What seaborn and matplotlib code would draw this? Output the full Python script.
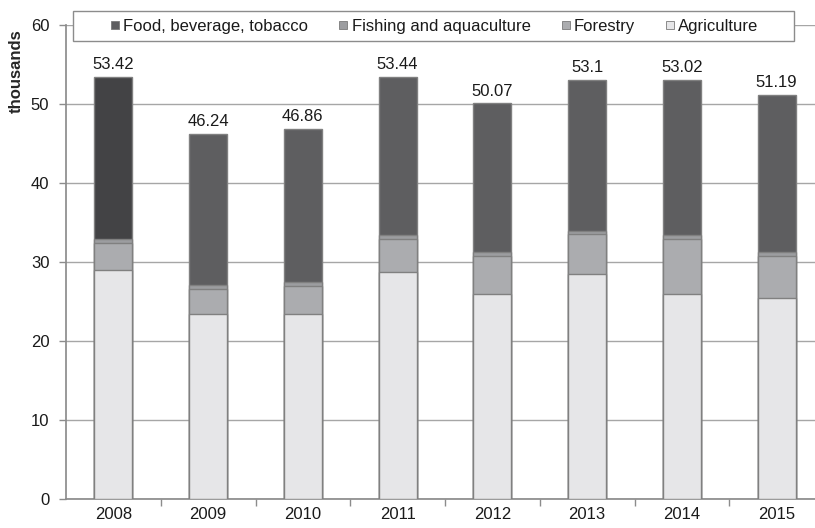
import numpy as np
import pandas as pd
import matplotlib
matplotlib.use("Agg")
import matplotlib.pyplot as plt
from matplotlib.patches import Rectangle
from matplotlib.lines import Line2D
import seaborn as sns

years = ["2008", "2009", "2010", "2011", "2012", "2013", "2014", "2015"]
totals = [53.42, 46.24, 46.86, 53.44, 50.07, 53.1, 53.02, 51.19]
agriculture = [29.0, 23.4, 23.4, 28.7, 25.9, 28.5, 25.9, 25.4]
forestry = [3.4, 3.2, 3.6, 4.2, 4.9, 5.0, 7.0, 5.4]
fishing = [0.5, 0.5, 0.5, 0.5, 0.5, 0.4, 0.5, 0.5]
food = [round(t - a - f - s, 2) for t, a, f, s in zip(totals, agriculture, forestry, fishing)]

series_names = ["Food, beverage, tobacco", "Fishing and aquaculture", "Forestry", "Agriculture"]
series_colors = ["#5e5e60", "#9c9da0", "#abacaf", "#e6e6e8"]
food_2008_color = "#434345"

sns.set_theme(style="white")
plt.rcParams["font.family"] = ["Liberation Sans", "DejaVu Sans"]
plt.rcParams["text.color"] = "#1a1a1a"
fs = 12

df = pd.DataFrame({
    "year": years,
    "agriculture": agriculture,
    "forestry": forestry,
    "fishing": fishing,
    "food": food,
})
# cumulative heights, drawn from tallest to shortest so each layer covers the one above
df["c_agri"] = df["agriculture"]
df["c_fore"] = df["c_agri"] + df["forestry"]
df["c_fish"] = df["c_fore"] + df["fishing"]
df["c_food"] = df["c_fish"] + df["food"]

fig = plt.figure(figsize=(8.15, 5.28), dpi=100)
ax = fig.add_axes([66 / 815, 29 / 528, 758 / 815, 474 / 528])

edge = "#808080"
layers = [("c_food", series_colors[0]), ("c_fish", series_colors[1]),
          ("c_fore", series_colors[2]), ("c_agri", series_colors[3])]
for col, colr in layers:
    sns.barplot(data=df, x="year", y=col, color=colr, width=0.4, saturation=1,
                edgecolor=edge, linewidth=1, ax=ax, zorder=3)

# the first year's top segment is shaded darker
ax.patches[0].set_facecolor(food_2008_color)

ax.set_xlim(-0.5, 7.5)
ax.set_ylim(0, 60)
ax.set_yticks(np.arange(0, 61, 10))
ax.set_xlabel("")
ax.set_ylabel("thousands", fontsize=fs, fontweight="bold", labelpad=5, loc="top")
ax.yaxis.label.set_y(0.99)

ax.grid(axis="y", color="#a6a6a6", linewidth=1, zorder=0)
ax.grid(axis="x", visible=False)
for s in ["top", "right"]:
    ax.spines[s].set_visible(False)
ax.spines["left"].set_color("#8c8c8c")
ax.spines["bottom"].set_color("#8c8c8c")

ax.tick_params(axis="y", which="major", length=5, color="#8c8c8c", width=1,
               labelsize=fs, pad=7, left=True, labelcolor="#1a1a1a")
ax.tick_params(axis="x", which="major", length=0, labelsize=fs, pad=6, labelcolor="#1a1a1a")
ax.set_xticks(np.arange(0.5, 7.5, 1), minor=True)
ax.tick_params(axis="x", which="minor", length=5, color="#8c8c8c", width=1, bottom=True)

for i, t in enumerate(totals):
    ax.text(i, t + 0.6, f"{t:g}", ha="center", va="bottom", fontsize=fs)

# legend box across the top
box = Rectangle((73 / 815, 1 - 41 / 528), (794 - 73) / 815, 30 / 528,
                transform=fig.transFigure, facecolor="white", edgecolor="#8c8c8c",
                linewidth=1, zorder=5)
fig.add_artist(box)
handles = [Line2D([], [], marker="s", linestyle="none", markersize=6,
                  markerfacecolor=c, markeredgecolor="#7a7a7a", markeredgewidth=0.6)
           for c in series_colors]
leg = fig.legend(handles, series_names, loc="center", ncol=4,
                 bbox_to_anchor=(433.5 / 815, 1 - 26 / 528), frameon=False,
                 fontsize=fs, handletextpad=0.1, columnspacing=1.7, handlelength=0.8)
leg.set_zorder(6)

fig.savefig("out.png", dpi=100)
